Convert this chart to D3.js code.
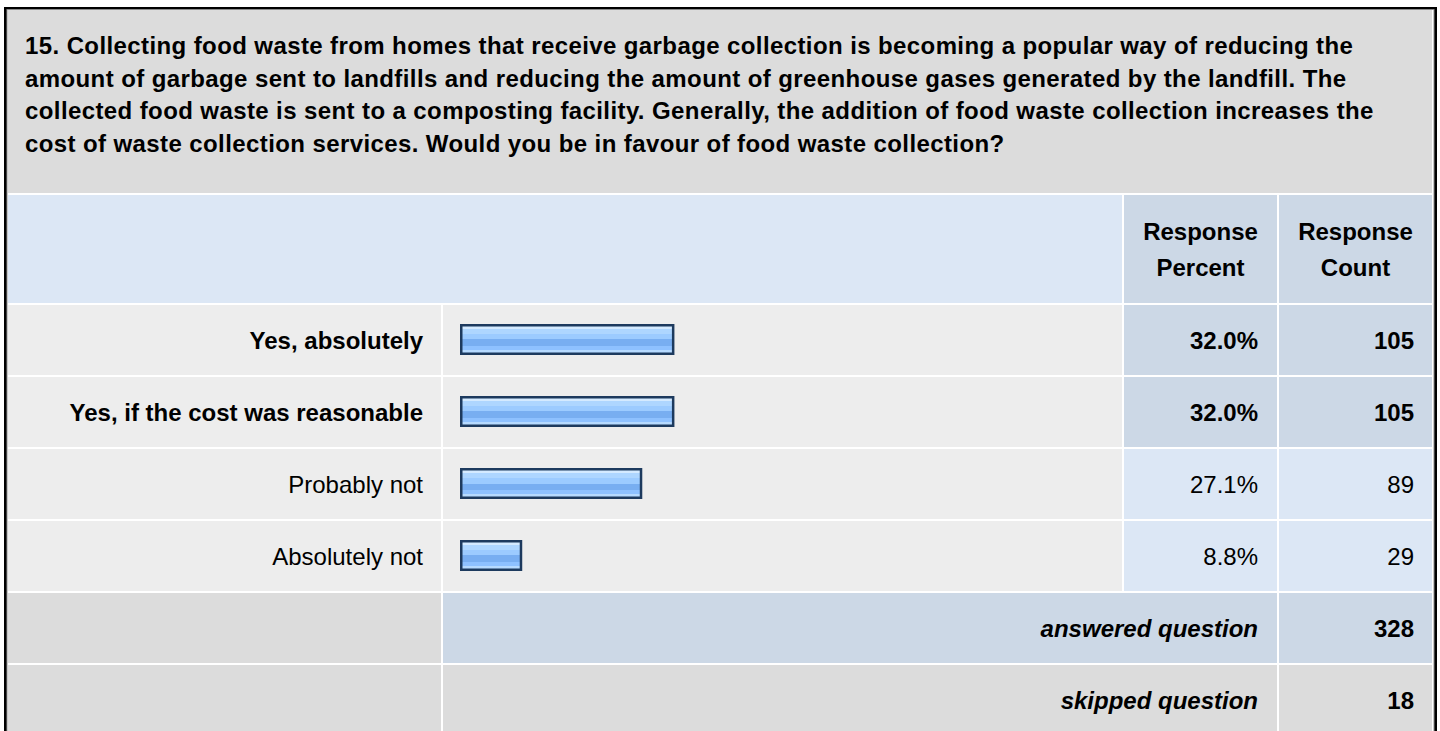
<!DOCTYPE html>
<html>
<head>
<meta charset="utf-8">
<script src="https://cdn.jsdelivr.net/npm/d3@7"></script>
<style>
  body { margin: 0; background: #fff; }
  text { font-family: "Liberation Sans", Arial, sans-serif; font-size: 24px; fill: #000; }
</style>
</head>
<body>
<div id="chart"></div>
<script>
// data
let titleLines = [
    "15. Collecting food waste from homes that receive garbage collection is becoming a popular way of reducing the",
    "amount of garbage sent to landfills and reducing the amount of greenhouse gases generated by the landfill. The",
    "collected food waste is sent to a composting facility. Generally, the addition of food waste collection increases the",
    "cost of waste collection services. Would you be in favour of food waste collection?"
];
let headerPercent = ["Response", "Percent"];
let headerCount = ["Response", "Count"];
let answers = ["Yes, absolutely", "Yes, if the cost was reasonable", "Probably not", "Absolutely not"];
let percents = [32.0, 32.0, 27.1, 8.8];
let counts = [105, 105, 89, 29];
let summaryLabels = ["answered question", "skipped question"];
let summaryCounts = [328, 18];

const width = 1440, height = 731;

// column edges
let colLabel = [8, 441], colBar = [443, 1122], colPct = [1124, 1277], colCount = [1279, 1432];
let rowH = 70, rowGap = 2, headerTop = 195, headerBottom = 303;

let svg = d3.select("#chart")
    .append("svg")
    .attr("width", width)
    .attr("height", height);

// outer frame
svg.append("rect").attr("x", 4).attr("y", 7).attr("width", 1433).attr("height", 800).attr("fill", "#000");
svg.append("rect").attr("x", 6.5).attr("y", 9).attr("width", 1428).attr("height", 800).attr("fill", "#8a8a8a");
svg.append("rect").attr("x", 7.5).attr("y", 10).attr("width", 1426).attr("height", 800).attr("fill", "#fff");

// question box
svg.append("rect").attr("x", 8).attr("y", 10).attr("width", 1424).attr("height", 183).attr("fill", "#dcdcdc");
svg.append("g").selectAll("text").data(titleLines).enter()
    .append("text")
    .attr("x", 25)
    .attr("y", function(d, i) { return 54 + i * 32.6; })
    .style("font-weight", "bold")
    .style("letter-spacing", "0.4px")
    .text(function(d) { return d; });

// header row
function cell(x0, x1, y0, y1, color) {
    svg.append("rect")
        .attr("x", x0).attr("y", y0)
        .attr("width", x1 - x0).attr("height", y1 - y0)
        .attr("fill", color);
}
cell(colLabel[0], colBar[1], headerTop, headerBottom, "#dce7f5");
cell(colPct[0], colPct[1], headerTop, headerBottom, "#ccd8e6");
cell(colCount[0], colCount[1], headerTop, headerBottom, "#ccd8e6");

let headMid = (headerTop + headerBottom) / 2;
[[colPct, headerPercent], [colCount, headerCount]].forEach(function(h) {
    svg.append("g").selectAll("text").data(h[1]).enter()
        .append("text")
        .attr("x", (h[0][0] + h[0][1]) / 2)
        .attr("y", function(d, i) { return headMid - 9 + i * 36; })
        .style("text-anchor", "middle")
        .style("font-weight", "bold")
        .text(function(d) { return d; });
});

// rows
let rowY = d3.scaleLinear().domain([0, 1]).range([headerBottom + rowGap, headerBottom + rowGap + rowH + rowGap]);
let barX = d3.scaleLinear().domain([0, 100]).range([0, 656]);
let maxPct = d3.max(percents);

let defs = svg.append("defs");
let grad = defs.append("linearGradient").attr("id", "barGrad")
    .attr("x1", 0).attr("y1", 0).attr("x2", 0).attr("y2", 1);
[[0, "#d4eaff"], [0.14, "#d4eaff"], [0.14, "#aed6ff"], [0.3, "#aed6ff"], [0.3, "#9ccbff"],
 [0.5, "#9ccbff"], [0.5, "#78aef1"], [0.73, "#78aef1"], [0.73, "#8ec1ff"], [0.88, "#8ec1ff"],
 [0.88, "#b6daff"], [1, "#b6daff"]].forEach(function(s) {
    grad.append("stop").attr("offset", s[0]).attr("stop-color", s[1]);
});

let rowData = answers.map(function(a, i) {
    return {label: a, pct: percents[i], count: counts[i], bold: percents[i] === maxPct};
});

let rows = svg.append("g").selectAll("g").data(rowData).enter()
    .append("g")
    .attr("transform", function(d, i) { return `translate(0, ${rowY(i)})`; });

rows.append("rect").attr("x", colLabel[0]).attr("width", colLabel[1] - colLabel[0]).attr("height", rowH).attr("fill", "#ededed");
rows.append("rect").attr("x", colBar[0]).attr("width", colBar[1] - colBar[0]).attr("height", rowH).attr("fill", "#ededed");
rows.append("rect").attr("x", colPct[0]).attr("width", colPct[1] - colPct[0]).attr("height", rowH)
    .attr("fill", function(d) { return d.bold ? "#ccd8e6" : "#dce7f5"; });
rows.append("rect").attr("x", colCount[0]).attr("width", colCount[1] - colCount[0]).attr("height", rowH)
    .attr("fill", function(d) { return d.bold ? "#ccd8e6" : "#dce7f5"; });

rows.append("rect")
    .attr("x", 461.25)
    .attr("y", 20.25)
    .attr("width", function(d) { return barX(d.pct) + 2; })
    .attr("height", 28.5)
    .attr("fill", "url(#barGrad)")
    .attr("stroke", "#1d3a5e")
    .attr("stroke-width", 2.5);

rows.append("text")
    .attr("x", colLabel[1] - 18)
    .attr("y", rowH / 2 + 8.5)
    .style("text-anchor", "end")
    .style("font-weight", function(d) { return d.bold ? "bold" : "normal"; })
    .text(function(d) { return d.label; });

rows.append("text")
    .attr("x", colPct[1] - 19)
    .attr("y", rowH / 2 + 8.5)
    .style("text-anchor", "end")
    .style("font-weight", function(d) { return d.bold ? "bold" : "normal"; })
    .text(function(d) { return d.pct.toFixed(1) + "%"; });

rows.append("text")
    .attr("x", colCount[1] - 18)
    .attr("y", rowH / 2 + 8.5)
    .style("text-anchor", "end")
    .style("font-weight", function(d) { return d.bold ? "bold" : "normal"; })
    .text(function(d) { return d.count; });

// answered / skipped
let summary = summaryLabels.map(function(s, i) { return {label: s, count: summaryCounts[i]}; });
let sums = svg.append("g").selectAll("g").data(summary).enter()
    .append("g")
    .attr("transform", function(d, i) { return `translate(0, ${rowY(answers.length + i)})`; });

sums.append("rect").attr("x", colLabel[0]).attr("width", colLabel[1] - colLabel[0]).attr("height", rowH).attr("fill", "#dcdcdc");
sums.append("rect").attr("x", colBar[0]).attr("width", colPct[1] - colBar[0]).attr("height", rowH)
    .attr("fill", function(d, i) { return i === 0 ? "#ccd8e6" : "#dcdcdc"; });
sums.append("rect").attr("x", colCount[0]).attr("width", colCount[1] - colCount[0]).attr("height", rowH)
    .attr("fill", function(d, i) { return i === 0 ? "#ccd8e6" : "#dcdcdc"; });

sums.append("text")
    .attr("x", colPct[1] - 19)
    .attr("y", rowH / 2 + 8.5)
    .style("text-anchor", "end")
    .style("font-weight", "bold")
    .style("font-style", "italic")
    .text(function(d) { return d.label; });

sums.append("text")
    .attr("x", colCount[1] - 18)
    .attr("y", rowH / 2 + 8.5)
    .style("text-anchor", "end")
    .style("font-weight", "bold")
    .text(function(d) { return d.count; });
</script>
</body>
</html>
